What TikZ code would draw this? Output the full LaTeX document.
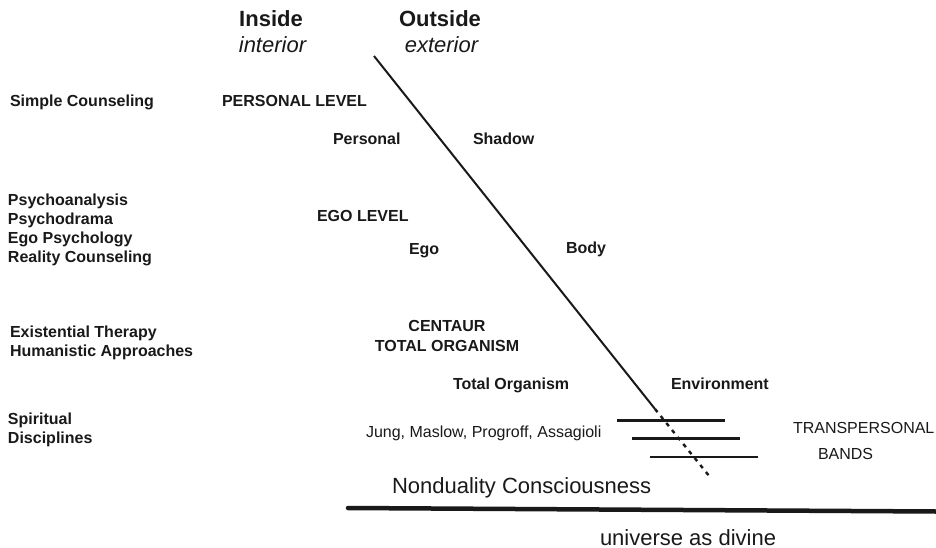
\documentclass[tikz,border=0pt]{standalone}
\usepackage{fontspec}
\setmainfont{Liberation Sans}
\begin{document}
\begin{tikzpicture}[x=1pt,y=-1pt,
  every node/.style={inner sep=0pt, outer sep=0pt, text=black!90},
  bl/.style={font=\bfseries\fontsize{16}{19}\selectfont, anchor=base west},
  rl/.style={font=\fontsize{16}{19}\selectfont, anchor=base west},
  head/.style={font=\bfseries\fontsize{22}{26}\selectfont, anchor=base},
  sub/.style={font=\itshape\fontsize{22}{26}\selectfont, anchor=base},
  big/.style={font=\fontsize{22}{26}\selectfont, anchor=base west},
  bandline/.style={line width=2.4pt, black!90},
  diag/.style={line width=2pt, black!90}]
\useasboundingbox (0,0) rectangle (936,548);

% headings
\node[head] (inside) at (271,26.5) {Inside};
\node[sub] (interior) at (272.5,53) {interior};
\node[head] (outside) at (440,26.5) {Outside};
\node[sub] (exterior) at (441.5,53) {exterior};

% left column
\node[bl] (simple) at (10,106.7) {Simple Counseling};
\node[bl] (psa) at (8,205) {Psychoanalysis};
\node[bl] (psd) at (8,224) {Psychodrama};
\node[bl] (egop) at (8,243.5) {Ego Psychology};
\node[bl] (real) at (8,262.7) {Reality Counseling};
\node[bl] (exist) at (10,337) {Existential Therapy};
\node[bl] (human) at (10,356.5) {Humanistic Approaches};
\node[bl] (spir) at (8,424) {Spiritual};
\node[bl] (disc) at (8,443) {Disciplines};

% levels
\node[bl] (perslev) at (222,107) {PERSONAL LEVEL};
\node[bl] (pers) at (333,145) {Personal};
\node[bl] (shadow) at (473,145) {Shadow};
\node[bl] (egolev) at (317,221.5) {EGO LEVEL};
\node[bl] (ego) at (409,254) {Ego};
\node[bl] (body) at (566,253) {Body};
\node[bl, anchor=base] (centaur) at (447,331.5) {CENTAUR};
\node[bl, anchor=base] (totorg) at (447,351) {TOTAL ORGANISM};
\node[bl] (to) at (453,389) {Total Organism};
\node[bl] (env) at (671,389) {Environment};
\node[rl] (jung) at (366,437.5) {Jung, Maslow, Progroff, Assagioli};
\node[rl] (trans) at (793,433) {TRANSPERSONAL};
\node[rl] (bands) at (818,459) {BANDS};
\node[big] (nond) at (392,493) {Nonduality Consciousness};
\node[big] (univ) at (600,545) {universe as divine};

% diagonal
\coordinate (dtop) at (374,56);
\coordinate (dmid) at (655,409);
\coordinate (dend) at (710,477);
\draw[diag] (dtop) -- (dmid);
\draw[diag, line width=2.4pt, dash pattern=on 4pt off 5pt] (dmid) -- (dend);

% transpersonal bands
\coordinate (b1a) at (617,420.5); \coordinate (b1b) at (725,420.5);
\coordinate (b2a) at (632,438.5); \coordinate (b2b) at (740,438.5);
\coordinate (b3a) at (650,457); \coordinate (b3b) at (758,457);
\draw[bandline] (b1a) -- (b1b);
\draw[bandline] (b2a) -- (b2b);
\draw[bandline] (b3a) -- (b3b);

% ground line
\coordinate (ga) at (348,508);
\coordinate (gb) at (936,511.5);
\draw[line width=4.5pt, black!90, line cap=round] (ga) -- (gb);
\end{tikzpicture}
\end{document}
